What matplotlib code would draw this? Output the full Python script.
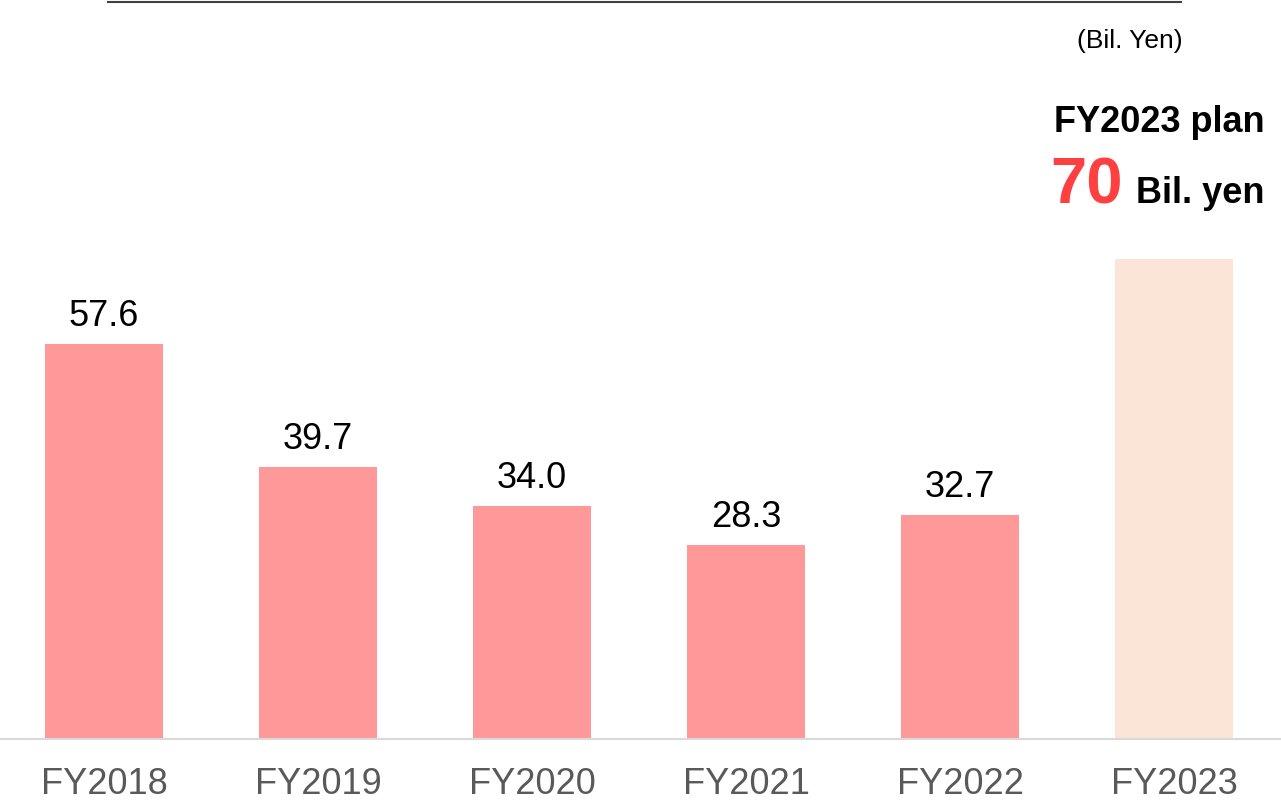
import matplotlib
matplotlib.use('Agg')
import matplotlib.pyplot as plt
from matplotlib.lines import Line2D

plt.rcParams['font.family'] = ['Liberation Sans', 'DejaVu Sans']

# DATA
years = ['FY2018', 'FY2019', 'FY2020', 'FY2021', 'FY2022', 'FY2023']
values = [57.6, 39.7, 34.0, 28.3, 32.7, 70.0]
labels = ['57.6', '39.7', '34.0', '28.3', '32.7', '']
bar_colors = ['#FF9999'] * 5 + ['#FBE5D6']

W, H = 1281, 807
fig = plt.figure(figsize=(W / 100, H / 100), dpi=100)
ax = fig.add_axes([0, 68 / H, 1, 739 / H])

x = list(range(len(years)))
ax.bar(x, values, width=0.556, color=bar_colors, zorder=2)

# value labels above bars
for xi, v, lab in zip(x, values, labels):
    if lab:
        ax.annotate(lab, (xi, v), xytext=(0, 13), textcoords='offset points',
                    ha='center', va='baseline', fontsize=26, color='black')

ax.set_xlim(-0.486, 5.5)
ax.set_ylim(0, 107.75)
ax.set_yticks([])
ax.set_xticks(x)
ax.set_xticklabels(years, fontsize=26, color='#595959')
ax.tick_params(axis='x', length=0, pad=20)
for side in ['top', 'left', 'right']:
    ax.spines[side].set_visible(False)
ax.spines['bottom'].set_color('#D9D9D9')
ax.spines['bottom'].set_linewidth(1.5)
ax.patch.set_alpha(0)

# top rule
fig.add_artist(Line2D([108 / W, 1181 / W], [1 - 2 / H, 1 - 2 / H],
                      color='#404040', linewidth=1.5))

# unit + plan annotation
fig.text(1183 / W, 1 - 48 / H, '(Bil. Yen)', ha='right', va='baseline', fontsize=19)
fig.text(1265 / W, 1 - 132 / H, 'FY2023 plan', ha='right', va='baseline',
         fontsize=26, fontweight='bold')
fig.text(1050 / W, 1 - 203 / H, '70', ha='left', va='baseline',
         fontsize=47, fontweight='bold', color='#FF4040')
fig.text(1265 / W, 1 - 203 / H, 'Bil. yen', ha='right', va='baseline',
         fontsize=26, fontweight='bold')

plt.savefig('out.png', dpi=100)
